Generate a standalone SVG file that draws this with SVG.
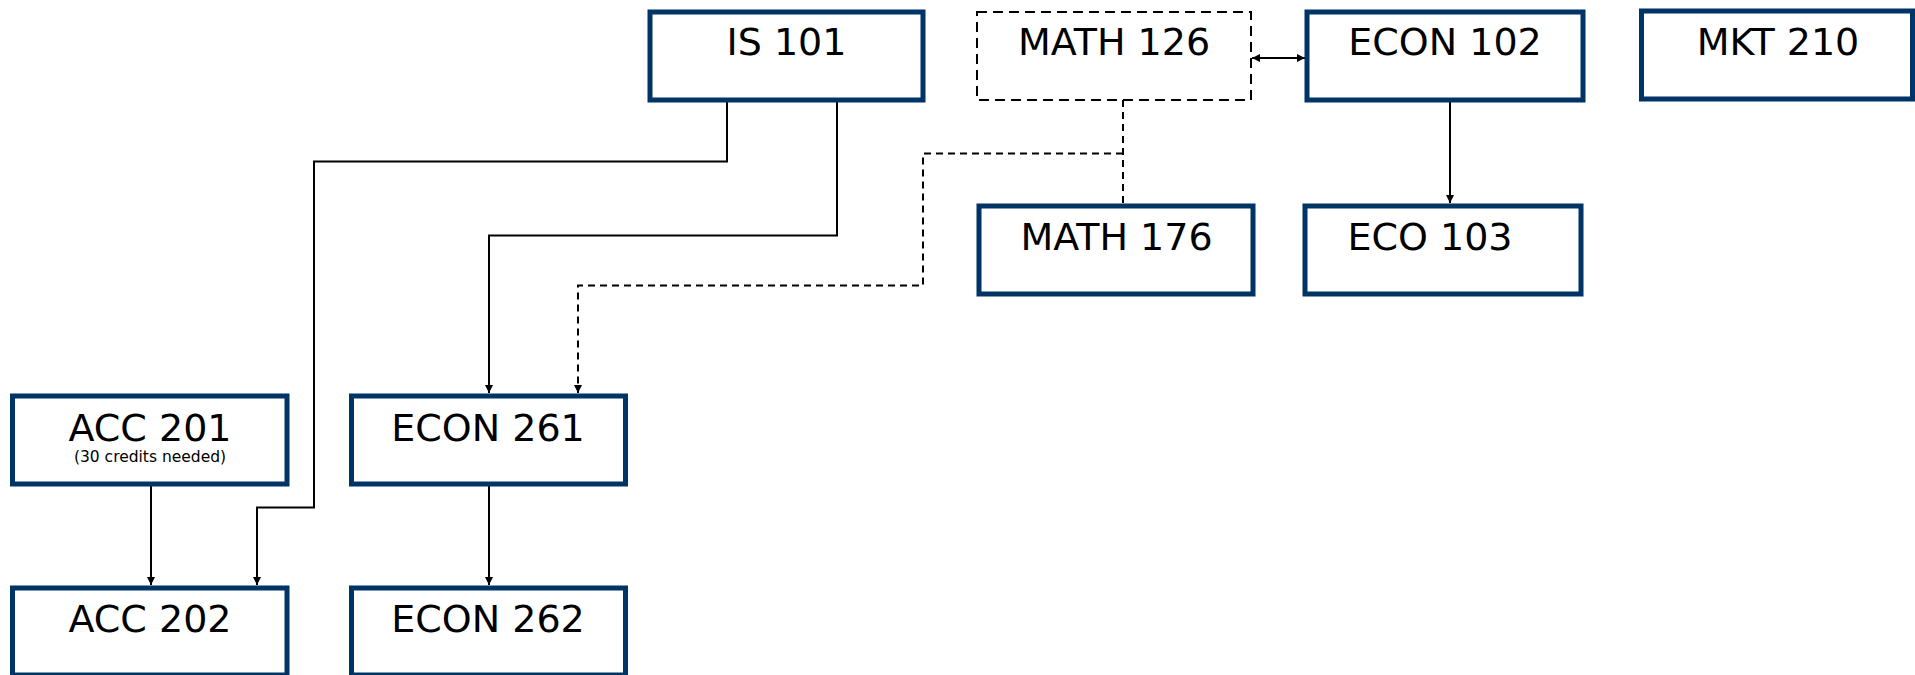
<svg xmlns="http://www.w3.org/2000/svg" width="1915" height="675" viewBox="0 0 1915 675">
<style>
.box{fill:#fff;stroke:#003366;stroke-width:5}
.dbox{fill:#fff;stroke:#000;stroke-width:2;stroke-dasharray:10 6}
.lbl{font-family:"DejaVu Sans",Verdana,sans-serif;font-size:38px;fill:#000;text-anchor:middle}
.sub{font-family:"DejaVu Sans",Verdana,sans-serif;font-size:15.5px;fill:#000;text-anchor:middle}
.c{fill:none;stroke:#000;stroke-width:2}
.d{stroke-dasharray:7 5}
</style>
<defs>
<marker id="ah" viewBox="0 0 10 10" refX="10" refY="5" markerWidth="8" markerHeight="8" markerUnits="userSpaceOnUse" orient="auto">
<path d="M0,0 L10,5 L0,10 Z" fill="#000"/>
</marker>
<marker id="ahs" viewBox="0 0 10 10" refX="0" refY="5" markerWidth="8" markerHeight="8" markerUnits="userSpaceOnUse" orient="auto">
<path d="M10,0 L0,5 L10,10 Z" fill="#000"/>
</marker>
</defs>
<rect width="1915" height="675" fill="#fff"/>
<g id="connectors">
<path class="c" d="M727,100 V161.5 H314 V507.5 H257 V585" marker-end="url(#ah)"/>
<path class="c" d="M837,100 V235.5 H489 V393" marker-end="url(#ah)"/>
<path class="c d" d="M1123,100 V205"/>
<path class="c d" d="M1123,153.5 H923 V285.5 H578 V393" marker-end="url(#ah)"/>
<path class="c" d="M1450,102 V203" marker-end="url(#ah)"/>
<path class="c" d="M1252,58 H1305" marker-start="url(#ahs)" marker-end="url(#ah)"/>
<path class="c" d="M151,486 V585" marker-end="url(#ah)"/>
<path class="c" d="M489,486 V585" marker-end="url(#ah)"/>
</g>
<g id="is101"><rect class="box" x="650" y="12" width="273" height="88"/><text class="lbl" x="786.5" y="55">IS 101</text></g>
<g id="math126"><rect class="dbox" x="977" y="12" width="274" height="88"/><text class="lbl" x="1114" y="55">MATH 126</text></g>
<g id="econ102"><rect class="box" x="1307" y="12" width="276" height="88"/><text class="lbl" x="1445" y="55">ECON 102</text></g>
<g id="mkt210"><rect class="box" x="1641.5" y="11" width="271" height="88"/><text class="lbl" x="1778" y="55">MKT 210</text></g>
<g id="math176"><rect class="box" x="979" y="206" width="274" height="88"/><text class="lbl" x="1116.5" y="250">MATH 176</text></g>
<g id="eco103"><rect class="box" x="1305" y="206" width="276" height="88"/><text class="lbl" x="1430" y="250">ECO 103</text></g>
<g id="acc201"><rect class="box" x="12.5" y="396" width="274.5" height="88"/><text class="lbl" x="150" y="440.5">ACC 201</text><text class="sub" x="150" y="462">(30 credits needed)</text></g>
<g id="econ261"><rect class="box" x="351.5" y="396" width="274" height="88"/><text class="lbl" x="488" y="440.5">ECON 261</text></g>
<g id="acc202"><rect class="box" x="12.5" y="588" width="274.5" height="87"/><text class="lbl" x="150" y="632">ACC 202</text></g>
<g id="econ262"><rect class="box" x="351.5" y="588" width="274" height="87"/><text class="lbl" x="488" y="632">ECON 262</text></g>
</svg>
